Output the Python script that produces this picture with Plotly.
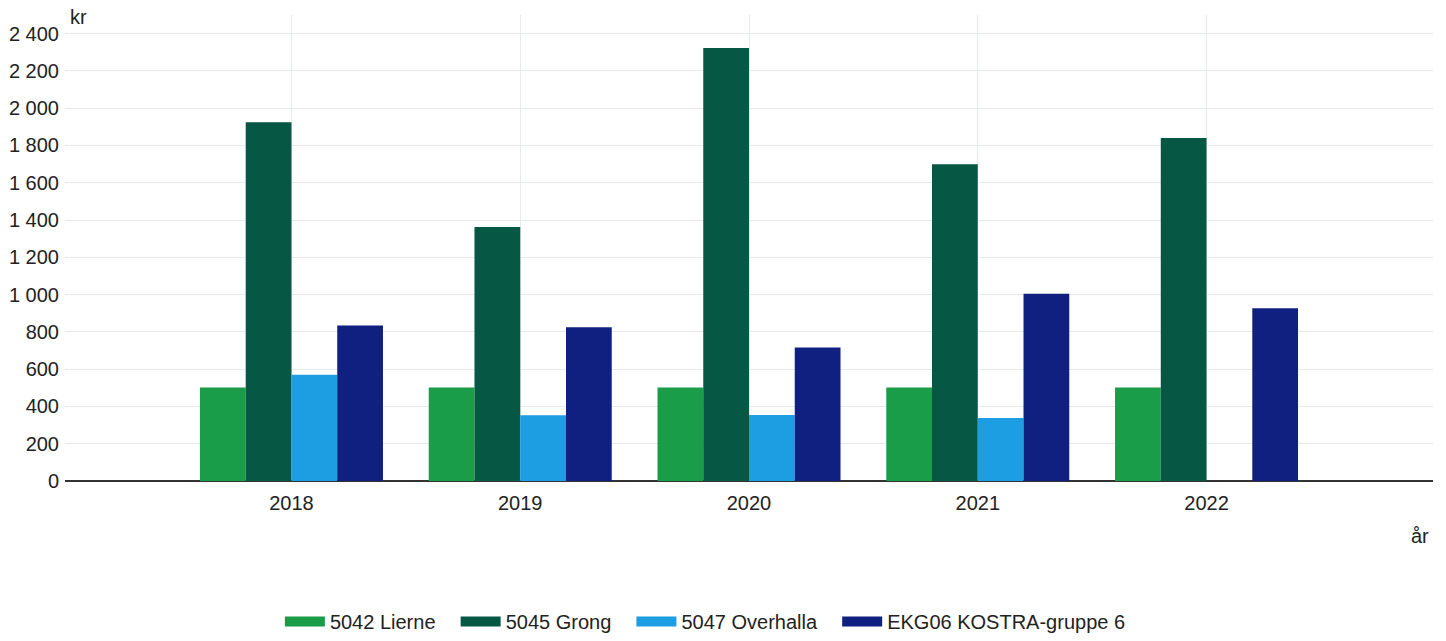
import plotly.graph_objects as go

years = ["2018", "2019", "2020", "2021", "2022"]
lierne = [502, 502, 502, 502, 502]
grong = [1925, 1362, 2323, 1699, 1840]
overhalla = [570, 353, 354, 338, None]
ekg06 = [834, 825, 716, 1005, 927]

series_names = ["5042 Lierne", "5045 Grong", "5047 Overhalla", "EKG06 KOSTRA-gruppe 6"]
colors = ["#1a9d49", "#075745", "#1d9de2", "#0f2080"]

fig = go.Figure()
for name, vals, col in zip(series_names, [lierne, grong, overhalla, ekg06], colors):
    fig.add_trace(go.Bar(x=years, y=vals, name=name, marker_color=col,
                         marker_line_width=0, showlegend=False, legendgroup=name))
# legend proxies (wide rectangular swatches)
pad = "\u00a0\u00a0\u2009"
for name, col in zip(series_names, colors):
    fig.add_trace(go.Scatter(x=[None], y=[None], mode="lines", name=name + pad,
                             line=dict(color=col, width=15), legendgroup=name,
                             showlegend=True, hoverinfo="skip"))

font = "Liberation Sans, Arial, sans-serif"
fs = 20
fig.update_layout(
    width=1446, height=641,
    margin=dict(l=65, r=13, t=15, b=159.5),
    plot_bgcolor="white", paper_bgcolor="white",
    barmode="group", bargap=0.2, bargroupgap=0,
    separators=", ",
    font=dict(family=font, size=fs, color="#222"),
    showlegend=True,
    legend=dict(orientation="h", xref="container", yref="container", x=0.493,
                xanchor="center", y=-0.01, yanchor="bottom",
                font=dict(size=fs, color="#222"), itemwidth=40, tracegroupgap=0),
    xaxis=dict(type="category", range=[-0.99, 4.99], showgrid=True, gridcolor="#e6eaeb",
               gridwidth=1, showline=False, ticks="", zeroline=False, automargin=False,
               ticklabelstandoff=8, tickfont=dict(size=fs, color="#222")),
    yaxis=dict(range=[0, 2500], dtick=200, tick0=0, tickformat=",", showgrid=True,
               gridcolor="#e6eaeb", gridwidth=1, zeroline=True, zerolinecolor="#333",
               zerolinewidth=1.5, showline=False, ticks="", automargin=False,
               ticklabelstandoff=5, tickfont=dict(size=fs, color="#222")),
    annotations=[
        dict(text="kr", xref="paper", yref="paper", x=0.002, y=0.996, xanchor="left",
             yanchor="middle", showarrow=False, font=dict(size=fs, color="#222")),
        dict(text="år", xref="paper", yref="paper", x=0.9905, y=-0.119, xanchor="center",
             yanchor="middle", showarrow=False, font=dict(size=fs, color="#222")),
    ],
)

fig.write_html("out.html", config={"displayModeBar": False},
               post_script="document.body.style.margin='0';document.body.style.overflow='hidden';")
